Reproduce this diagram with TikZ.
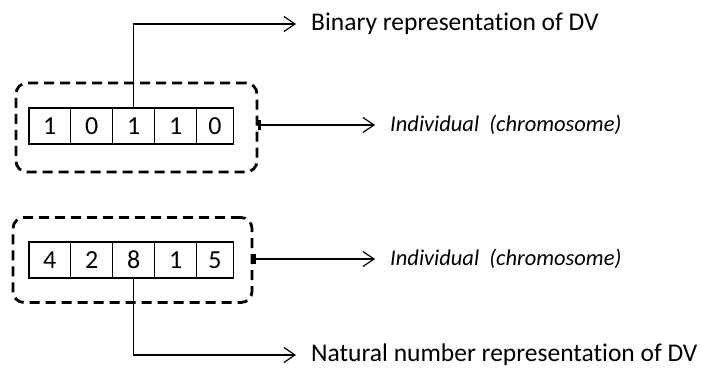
\documentclass[tikz,border=0pt]{standalone}
\usepackage{fontspec}
\setmainfont{Carlito}[RawFeature={-liga}]
\usetikzlibrary{arrows.meta}
\begin{document}
\begin{tikzpicture}[x=1pt,y=-1pt,
  cell/.style={draw, line width=1.3pt, minimum height=36pt, inner sep=0pt, font=\fontsize{26}{30}\selectfont},
  dbox/.style={draw, line width=2.8pt, dash pattern=on 10pt off 6pt, rounded corners=11pt, inner sep=0pt},
  lab/.style={anchor=west, inner ysep=0pt, inner xsep=15pt, font=\fontsize{25.5}{30}\selectfont},
  ilab/.style={lab, font=\fontsize{22.5}{27}\selectfont\itshape},
  arr/.style={line width=1.2pt, -{Straight Barb[length=11pt,width=15pt,line width=1.2pt]}},
  barr/.style={line width=1.2pt, {Bar[width=10pt,line width=2.5pt]}-{Straight Barb[length=11pt,width=15pt,line width=1.2pt]}}
]
\useasboundingbox (0,0) rectangle (702,369);
% top row
\node[dbox, minimum width=241pt, minimum height=89pt] (box1) at (136.5,127.5) {};
\node[cell, minimum width=41.7pt] (a1) at (49.8,126) {1};
\node[cell, minimum width=42pt] (a2) at (91.7,126) {0};
\node[cell, minimum width=42pt] (a3) at (133.7,126) {1};
\node[cell, minimum width=42pt] (a4) at (175.7,126) {1};
\node[cell, minimum width=36.7pt] (a5) at (215.0,126) {0};
\node[lab] (bin) at (296,24) {Binary representation of DV};
\node[ilab] (ind1) at (375,125) {Individual\ \ (chromosome)};
\draw[arr] (a3.north) |- (bin.west);
\draw[barr] (box1.east |- ind1.west) -- (ind1.west);
% bottom row
\node[dbox, minimum width=239pt, minimum height=85pt] (box2) at (132.5,260) {};
\node[cell, minimum width=41.7pt] (b1) at (49.8,260) {4};
\node[cell, minimum width=42pt] (b2) at (91.7,260) {2};
\node[cell, minimum width=42pt] (b3) at (133.7,260) {8};
\node[cell, minimum width=42pt] (b4) at (175.7,260) {1};
\node[cell, minimum width=36.7pt] (b5) at (215.0,260) {5};
\node[lab] (nat) at (296,355) {Natural number representation of DV};
\node[ilab] (ind2) at (375,259) {Individual\ \ (chromosome)};
\draw[arr] (b3.south) |- (nat.west);
\draw[barr] (box2.east |- ind2.west) -- (ind2.west);
\end{tikzpicture}
\end{document}
